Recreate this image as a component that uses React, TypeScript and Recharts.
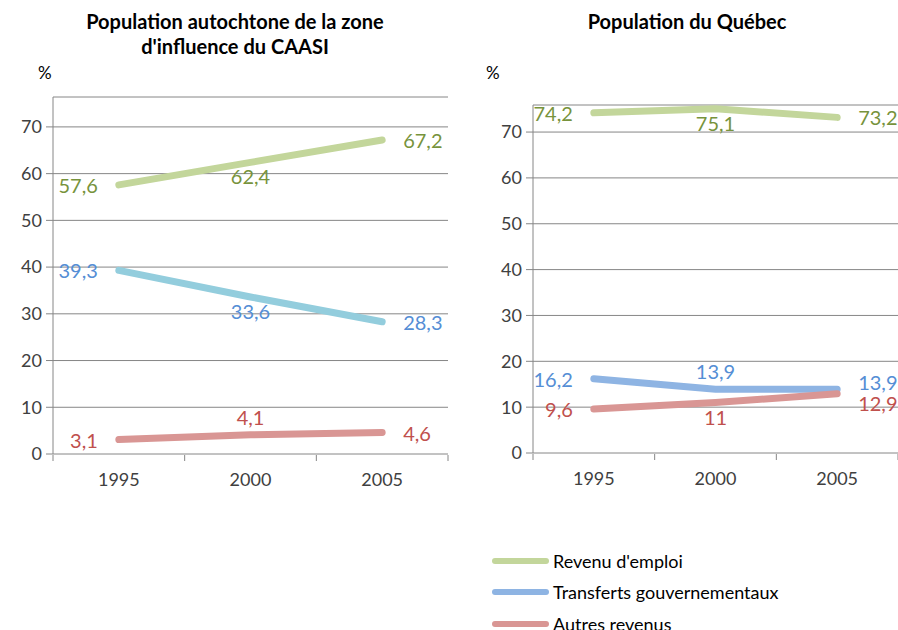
import React from "react";
import { LineChart, Line, XAxis, YAxis, CartesianGrid } from "recharts";

const years = ["1995", "2000", "2005"];
const seriesNames = ["Revenu d'emploi", "Transferts gouvernementaux", "Autres revenus"];

// Population autochtone de la zone d'influence du CAASI (%)
const caasiEmploi = [57.6, 62.4, 67.2];
const caasiTransferts = [39.3, 33.6, 28.3];
const caasiAutres = [3.1, 4.1, 4.6];

// Population du Québec (%)
const quebecEmploi = [74.2, 75.1, 73.2];
const quebecTransferts = [16.2, 13.9, 13.9];
const quebecAutres = [9.6, 11, 12.9];

const yTicks = [0, 10, 20, 30, 40, 50, 60, 70];
const boundaryTicks = [0, 1, 2, 3];

const FONT = "Lato, 'Open Sans', sans-serif";
const GREEN = "#c3d69b";
const CYAN = "#93cddd";
const BLUE = "#8eb4e3";
const RED = "#d99694";
const GREEN_TXT = "#77933c";
const BLUE_TXT = "#558ed5";
const RED_TXT = "#c0504d";
const AXIS = "#868686";
const TXT = "#404040";

type Place = "left" | "right" | "above" | "below" | "rightUp" | "rightDown";

const makeLabel = (color: string, places: Place[]) => (props: any) => {
  const { x, y, value, index } = props;
  const p = places[index];
  let dx = 0;
  let dy = 0;
  let anchor: "start" | "middle" | "end" = "middle";
  if (p === "left") { dx = -21; anchor = "end"; }
  if (p === "right") { dx = 21; anchor = "start"; }
  if (p === "rightUp") { dx = 21; dy = -7; anchor = "start"; }
  if (p === "rightDown") { dx = 21; dy = 9; anchor = "start"; }
  if (p === "above") dy = -18;
  if (p === "below") dy = 14;
  return (
    <text key={index} x={x + dx} y={y + dy} textAnchor={anchor} dominantBaseline="central"
      fill={color} fontSize={20} fontFamily={FONT}>
      {String(value).replace(".", ",")}
    </text>
  );
};

// slot = centre of each category band on a 0..3 scale (used only for the between-category tick marks)
const build = (a: number[], b: number[], c: number[]) =>
  years.map((year, i) => ({ year, slot: i + 0.5, emploi: a[i], transferts: b[i], autres: c[i] }));

type PanelProps = {
  data: any[];
  width: number;
  height: number;
  margin: { top: number; right: number; left: number; bottom: number };
  yMax: number;
  transfertsColor: string;
  places: { emploi: Place[]; transferts: Place[]; autres: Place[] };
};

function Panel({ data, width, height, margin, yMax, transfertsColor, places }: PanelProps) {
  return (
    <LineChart width={width} height={height} data={data} margin={margin}>
      <CartesianGrid vertical={false} stroke={AXIS} />
      <XAxis dataKey="year" scale="band" height={1} tickSize={0} tickMargin={19} axisLine={false} tickLine={false}
        tick={{ fill: TXT, fontSize: 18, fontFamily: FONT }} interval={0} />
      <XAxis xAxisId="bounds" dataKey="slot" type="number" domain={[0, 3]} ticks={boundaryTicks} allowDataOverflow
        tick={{ fontSize: 0 }} tickFormatter={() => ""} height={1} tickSize={6} axisLine={false} stroke={AXIS} />
      <YAxis domain={[0, yMax]} ticks={yTicks} width={40} tickSize={7} tickMargin={4} stroke={AXIS}
        allowDataOverflow tick={{ fill: TXT, fontSize: 18, fontFamily: FONT }} />
      <Line dataKey="emploi" name={seriesNames[0]} stroke={GREEN} strokeWidth={7} strokeLinecap="round"
        dot={false} activeDot={false} isAnimationActive={false} label={makeLabel(GREEN_TXT, places.emploi)} />
      <Line dataKey="transferts" name={seriesNames[1]} stroke={transfertsColor} strokeWidth={7} strokeLinecap="round"
        dot={false} activeDot={false} isAnimationActive={false} label={makeLabel(BLUE_TXT, places.transferts)} />
      <Line dataKey="autres" name={seriesNames[2]} stroke={RED} strokeWidth={7} strokeLinecap="round"
        dot={false} activeDot={false} isAnimationActive={false} label={makeLabel(RED_TXT, places.autres)} />
    </LineChart>
  );
}

const legendColors = [GREEN, BLUE, RED];

export default function App() {
  const titleStyle: React.CSSProperties = {
    position: "absolute", fontFamily: FONT, fontWeight: 700, fontSize: 20, color: "#000",
    textAlign: "center", lineHeight: "25px",
  };
  const pctStyle: React.CSSProperties = {
    position: "absolute", fontFamily: FONT, fontSize: 17, color: "#000",
  };
  return (
    <div style={{ position: "absolute", left: 0, top: 0, width: 898, height: 630, background: "#fff", overflow: "hidden" }}>
      <div style={{ ...titleStyle, left: 35, top: 9, width: 400 }}>
        Population autochtone de la zone<br />d'influence du CAASI
      </div>
      <div style={{ ...titleStyle, left: 487, top: 9, width: 400 }}>Population du Québec</div>
      <div style={{ ...pctStyle, left: 38, top: 62 }}>%</div>
      <div style={{ ...pctStyle, left: 486, top: 62 }}>%</div>

      <div style={{ position: "absolute", left: 0, top: 0 }}>
        <Panel data={build(caasiEmploi, caasiTransferts, caasiAutres)} width={450} height={520}
          margin={{ top: 97, right: 2, left: 13, bottom: 64 }} yMax={76.4} transfertsColor={CYAN}
          places={{ emploi: ["left", "below", "right"], transferts: ["left", "below", "right"], autres: ["left", "above", "right"] }} />
      </div>
      <div style={{ position: "absolute", left: 450, top: 0 }}>
        <Panel data={build(quebecEmploi, quebecTransferts, quebecAutres)} width={448} height={520}
          margin={{ top: 105, right: 0, left: 43, bottom: 65 }} yMax={75.9} transfertsColor={BLUE}
          places={{ emploi: ["left", "below", "right"], transferts: ["left", "above", "rightUp"], autres: ["left", "below", "rightDown"] }} />
      </div>

      <div style={{ position: "absolute", left: 492, top: 545 }}>
        {seriesNames.map((name, i) => (
          <div key={name} style={{ display: "flex", alignItems: "center", height: 31.5 }}>
            <div style={{ width: 57, height: 6, borderRadius: 3, background: legendColors[i], marginRight: 4 }} />
            <span style={{ fontFamily: FONT, fontSize: 18, color: "#000" }}>{name}</span>
          </div>
        ))}
      </div>
    </div>
  );
}
